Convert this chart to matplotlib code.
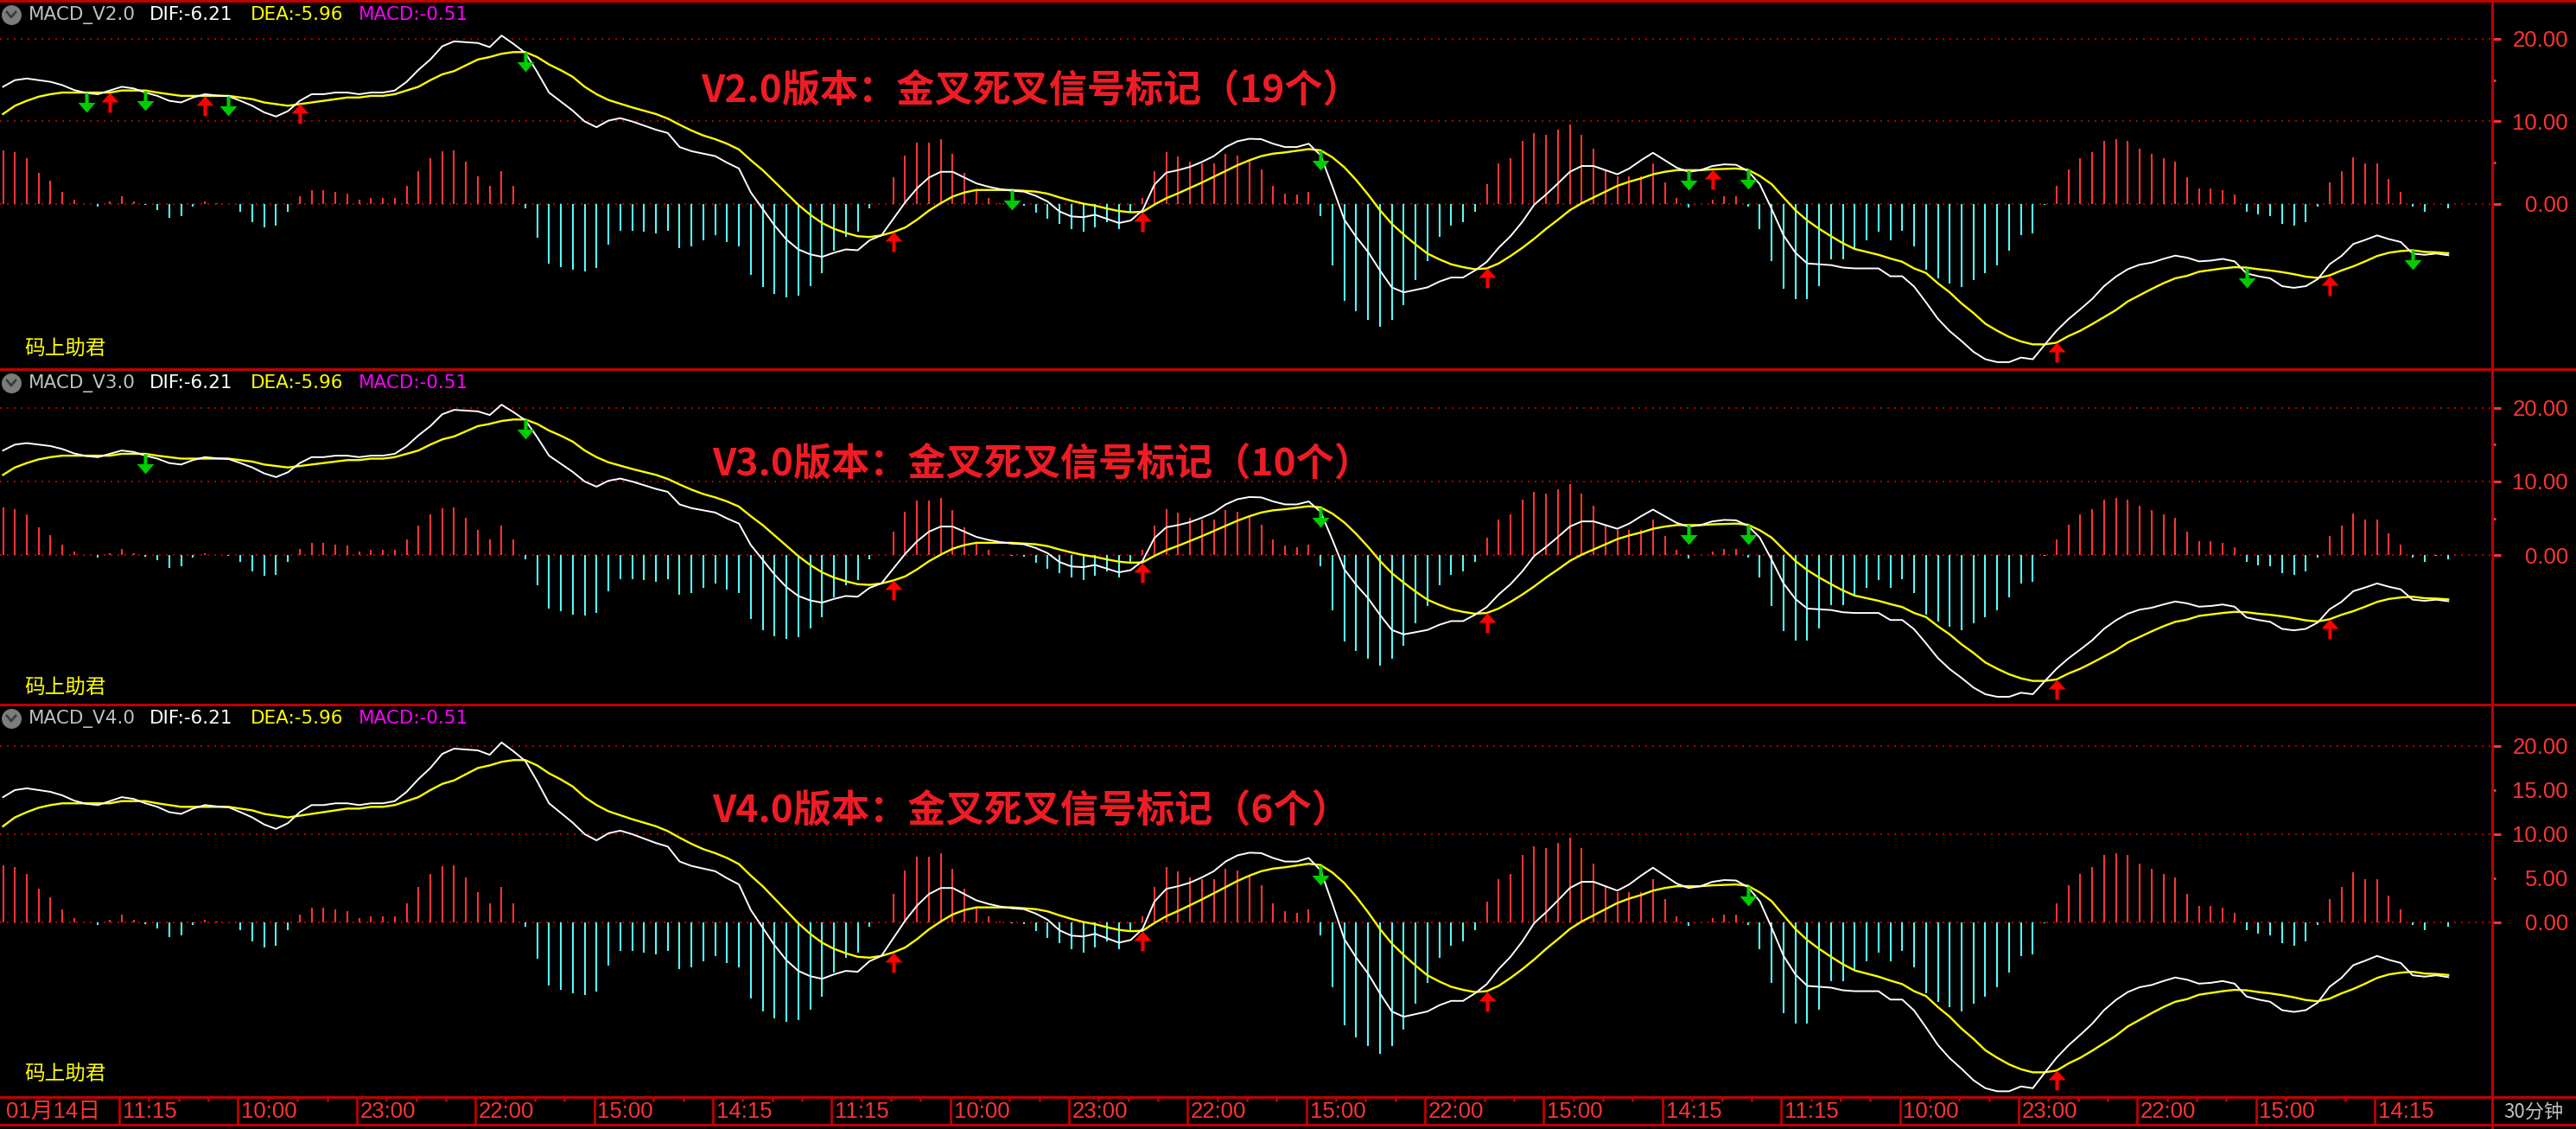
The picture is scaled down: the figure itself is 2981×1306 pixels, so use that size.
import numpy as np
import matplotlib
matplotlib.use("Agg")
import matplotlib.pyplot as plt
from matplotlib.path import Path
from matplotlib.lines import Line2D

W, H = 2981, 1306

# ---- data (one value per 30-min bar) ----
dif = [14.2, 15.0, 15.2, 15.0, 14.8, 14.4, 13.8, 13.45, 13.3, 13.75,
       14.2, 14.0, 13.5, 13.1, 12.5, 12.3, 12.9, 13.3, 13.15, 13.05,
       12.5, 11.9, 11.1, 10.6, 11.25, 12.5, 13.3, 13.3, 13.5, 13.5,
       13.3, 13.5, 13.5, 13.75, 14.8, 16.25, 17.5, 19.1, 19.7, 19.6,
       19.5, 19.0, 20.4, 19.4, 18.3, 16.0, 13.5, 12.4, 11.3, 10.0,
       9.3, 10.1, 10.4, 10.0, 9.5, 9.0, 8.6, 6.9, 6.4, 6.1,
       5.8, 5.0, 4.3, 1.4, -0.6, -2.6, -4.3, -5.5, -6.1, -6.4,
       -5.9, -5.5, -5.6, -4.4, -3.8, -1.8, 0.2, 1.9, 3.2, 3.9,
       3.9, 3.2, 2.5, 2.1, 1.8, 1.6, 1.5, 1.0, 0.3, -0.9,
       -1.5, -1.6, -1.3, -1.8, -2.3, -2.0, -0.75, 2.35, 3.8, 4.1,
       4.5, 5.1, 5.8, 6.9, 7.6, 7.9, 7.85, 7.3, 6.9, 6.9,
       7.3, 5.9, 2.1, -1.9, -4.0, -5.8, -8.05, -10.1, -10.7, -10.4,
       -10.1, -9.4, -8.9, -8.9, -8.05, -7.0, -5.3, -3.9, -2.15, -0.07,
       1.15, 2.5, 3.9, 4.6, 4.6, 4.1, 3.6, 4.3, 5.3, 6.2,
       5.3, 4.4, 3.9, 4.1, 4.6, 4.8, 4.75, 4.0, 2.4, -0.6,
       -3.8, -5.9, -7.2, -7.3, -7.4, -7.7, -7.8, -7.8, -7.8, -8.75,
       -8.75, -10.0, -11.9, -13.9, -15.4, -16.6, -17.9, -18.8, -19.15, -19.15,
       -18.6, -18.8, -17.05, -15.35, -13.95, -12.75, -11.5, -9.95, -8.8, -7.9,
       -7.35, -7.1, -6.65, -6.25, -6.5, -6.95, -6.85, -6.65, -6.95, -8.4,
       -8.75, -9.0, -9.95, -10.15, -9.95, -9.1, -7.3, -6.3, -4.85, -4.35,
       -3.8, -4.25, -4.6, -6.0, -6.15, -6.0, -6.21]

dea = [10.9, 11.9, 12.5, 13.0, 13.3, 13.5, 13.5, 13.5, 13.5, 13.5,
       13.75, 13.75, 13.75, 13.5, 13.3, 13.1, 13.1, 13.1, 13.1, 13.1,
       12.9, 12.7, 12.3, 12.1, 11.9, 12.1, 12.3, 12.5, 12.7, 12.9,
       12.9, 13.1, 13.1, 13.3, 13.75, 14.2, 15.0, 15.7, 16.1, 16.8,
       17.5, 17.8, 18.2, 18.4, 18.4, 17.8, 16.9, 16.2, 15.4, 14.2,
       13.3, 12.6, 12.15, 11.7, 11.3, 10.9, 10.35, 9.6, 8.9, 8.3,
       7.85, 7.3, 6.6, 5.3, 4.1, 2.7, 1.3, -0.1, -1.3, -2.3,
       -3.0, -3.5, -3.9, -4.0, -3.8, -3.4, -2.85, -1.9, -0.8, 0.1,
       0.9, 1.4, 1.7, 1.7, 1.7, 1.7, 1.6, 1.5, 1.25, 0.8,
       0.4, 0.05, -0.2, -0.55, -0.85, -1.0, -0.95, -0.07, 0.7, 1.3,
       1.95, 2.6, 3.3, 4.0, 4.7, 5.3, 5.8, 6.1, 6.25, 6.45,
       6.65, 6.5, 5.65, 4.45, 2.9, 1.15, -0.75, -2.4, -3.7, -4.9,
       -6.0, -6.7, -7.3, -7.65, -7.9, -7.8, -7.2, -6.3, -5.3, -4.2,
       -3.0, -1.9, -0.75, 0.1, 0.8, 1.5, 2.2, 2.7, 3.1, 3.6,
       3.9, 4.1, 4.1, 4.1, 4.2, 4.25, 4.3, 4.15, 3.4, 2.4,
       0.8, -0.75, -2.0, -3.0, -3.9, -4.75, -5.45, -5.8, -6.15, -6.6,
       -7.0, -7.8, -8.35, -9.6, -10.7, -12.05, -13.2, -14.5, -15.35, -16.1,
       -16.65, -17.0, -17.0, -16.8, -16.0, -15.35, -14.55, -13.7, -12.85, -11.8,
       -11.05, -10.3, -9.6, -9.0, -8.7, -8.2, -8.0, -7.8, -7.65, -7.7,
       -7.9, -8.05, -8.25, -8.5, -8.8, -8.95, -8.65, -8.05, -7.55, -6.95,
       -6.3, -5.9, -5.7, -5.6, -5.8, -5.85, -5.96]

macd = [6.5, 6.3, 5.5, 3.8, 2.8, 1.5, 0.5, 0.0, -0.3, 0.3,
        0.9, 0.3, -0.15, -0.7, -1.7, -1.5, -0.3, 0.3, 0.1, -0.05,
        -0.9, -2.2, -2.8, -2.6, -0.9, 0.9, 1.7, 1.7, 1.5, 1.3,
        0.5, 0.7, 0.7, 0.7, 2.2, 4.0, 5.5, 6.4, 6.5, 5.1,
        3.4, 2.15, 4.0, 2.15, -0.5, -4.1, -7.2, -7.6, -8.0, -8.2,
        -7.8, -4.9, -3.2, -3.2, -3.4, -3.6, -3.2, -5.3, -5.1, -4.4,
        -3.8, -4.65, -5.1, -8.6, -10.1, -10.9, -11.3, -11.1, -9.9, -8.4,
        -5.7, -4.0, -3.4, -0.5, 0.0, 3.2, 5.9, 7.4, 7.4, 7.8,
        6.1, 3.8, 1.8, 0.7, 0.1, -0.1, -0.2, -1.0, -1.8, -2.4,
        -3.0, -3.4, -2.8, -2.15, -3.0, -1.1, 0.7, 4.0, 6.3, 5.8,
        5.1, 4.9, 4.9, 6.1, 5.9, 5.3, 4.2, 2.15, 1.3, 1.1,
        1.5, -1.5, -7.4, -11.7, -13.0, -14.0, -14.9, -14.0, -12.2, -9.2,
        -6.9, -4.0, -2.6, -2.15, -0.9, 2.4, 4.9, 5.5, 7.6, 8.6,
        8.4, 9.0, 9.65, 8.4, 6.7, 4.2, 3.4, 3.4, 3.4, 4.9,
        2.6, 0.7, -0.4, 0.0, 0.5, 0.9, 0.9, -0.3, -3.0, -6.9,
        -10.3, -11.5, -11.5, -9.9, -6.7, -6.7, -5.5, -4.4, -3.4, -4.4,
        -3.2, -5.1, -8.0, -9.0, -9.65, -10.1, -9.2, -8.4, -7.4, -5.7,
        -3.8, -3.6, -0.1, 2.15, 4.2, 5.5, 6.3, 7.6, 7.8, 7.6,
        6.7, 6.1, 5.5, 5.1, 3.2, 1.9, 1.9, 1.7, 1.1, -0.9,
        -1.3, -1.5, -2.4, -2.6, -2.15, -0.3, 2.6, 4.0, 5.7, 4.9,
        4.9, 3.0, 1.5, -0.3, -0.9, -0.05, -0.51]

# signal bars (golden cross = red up arrow, death cross = green down arrow)
v2_gold = [9, 17, 25, 75, 96, 125, 144, 173, 196]
v2_dead = [7, 12, 19, 44, 85, 111, 142, 147, 189, 203]
v3_gold = [75, 96, 125, 173, 196]
v3_dead = [12, 44, 111, 142, 147]
v4_gold = [75, 96, 125, 173]
v4_dead = [111, 147]

time_labels = ["01月14日", "11:15", "10:00", "23:00", "22:00", "15:00", "14:15",
               "11:15", "10:00", "23:00", "22:00", "15:00", "22:00", "15:00",
               "14:15", "11:15", "10:00", "23:00", "22:00", "15:00", "14:15"]

header_vals = ["DIF:-6.21", "DEA:-5.96", "MACD:-0.51"]

# ---- styling ----
BORDER = "#bf0000"
GRID = "#b00000"
TXTRED = "#ff3434"
BAR_RED = "#ff3434"
BAR_CYAN = "#54fcfc"
NUMFONT = ["Liberation Sans Narrow", "Liberation Sans", "DejaVu Sans"]
CJK = ["Noto Sans CJK SC", "DejaVu Sans"]

dif = np.array(dif)
dea = np.array(dea)
macd = np.array(macd)
x = np.arange(len(dif))
XL = (-0.255, 209.7)

def fx(px):
    return px / W

def fy(py):
    return 1 - py / H

# arrow markers: tip / top at the anchor point, body hanging below
UP = Path([(0, 0), (0.435, -0.48), (0.09, -0.48), (0.09, -1), (-0.09, -1),
           (-0.09, -0.48), (-0.435, -0.48), (0, 0)], closed=True)
DOWN = Path([(-0.09, 0), (0.09, 0), (0.09, -0.5), (0.435, -0.5), (0, -1),
             (-0.435, -0.5), (-0.09, -0.5), (-0.09, 0)], closed=True)

fig = plt.figure(figsize=(W / 100, H / 100), dpi=100, facecolor="black")

panels = [
    dict(name="MACD_V2.0", title="V2.0版本：金叉死叉信号标记（19个）", gold=v2_gold, dead=v2_dead,
         top=2, bot=427, ylim=(-20.0, 24.5), five=False, title_xy=(1193, 104), sign_y=404),
    dict(name="MACD_V3.0", title="V3.0版本：金叉死叉信号标记（10个）", gold=v3_gold, dead=v3_dead,
         top=428, bot=815, ylim=(-20.2, 25.1), five=False, title_xy=(1206, 536), sign_y=796),
    dict(name="MACD_V4.0", title="V4.0版本：金叉死叉信号标记（6个）", gold=v4_gold, dead=v4_dead,
         top=816, bot=1269, ylim=(-19.8, 24.6), five=True, title_xy=(1193, 937), sign_y=1243),
]

for p in panels:
    ax = fig.add_axes([0, fy(p["bot"]), 2884 / W, (p["bot"] - p["top"]) / H])
    ax.set_facecolor("black")
    ax.set_xlim(XL)
    ax.set_ylim(p["ylim"])
    for s in ax.spines.values():
        s.set_visible(False)
    ax.set_xticks([])

    for lv in (0, 10, 20):
        ax.axhline(lv, color=GRID, lw=1.44, ls=(0, (1, 3)), zorder=1)

    pos = macd > 0
    neg = macd < 0
    ax.vlines(x[pos], 0, macd[pos], colors=BAR_RED, lw=1.5, zorder=2)
    ax.vlines(x[neg], 0, macd[neg], colors=BAR_CYAN, lw=1.5, zorder=2)

    ax.plot(x, dea, color="#ffff00", lw=1.7, zorder=3)
    ax.plot(x, dif, color="white", lw=1.4, zorder=4)

    g = np.array(p["gold"])
    d = np.array(p["dead"])
    ax.plot(g, dea[g], ls="none", marker=UP, ms=33, mfc="#ff0000", mec="none", zorder=5)
    ax.plot(d, dea[d], ls="none", marker=DOWN, ms=33, mfc="#00cc00", mec="none", zorder=5)

    # right price axis
    ax.yaxis.tick_right()
    ax.set_yticks([0, 10, 20])
    ax.set_yticklabels(["0.00", "10.00", "20.00"])
    ax.set_yticks([5, 15], minor=True)
    if p["five"]:
        ax.set_yticklabels(["5.00", "15.00"], minor=True)
    else:
        ax.set_yticklabels(["", ""], minor=True)
    ax.tick_params(axis="y", which="major", colors=TXTRED, length=7.2, width=2.2,
                   pad=56, labelsize=18.5)
    ax.tick_params(axis="y", which="minor", colors=TXTRED, length=2.9, width=2.2,
                   pad=60.5, labelsize=18.5)
    for lab in ax.get_yticklabels(which="both"):
        lab.set_horizontalalignment("right")
        lab.set_fontfamily(NUMFONT)

    # header line
    hy = p["top"] + 15
    fig.add_artist(Line2D([fx(13)], [fy(hy)], marker="o", ms=15.5, color="#7c7c7c",
                          transform=fig.transFigure))
    fig.add_artist(Line2D([fx(8), fx(13), fx(18)], [fy(hy - 3), fy(hy + 3), fy(hy - 3)],
                          color="#3c3c3c", lw=2, transform=fig.transFigure))
    fig.text(fx(33), fy(hy), p["name"], color="#c0c0c0", fontsize=15.5, va="center")
    fig.text(fx(173), fy(hy), header_vals[0], color="white", fontsize=15.5, va="center")
    fig.text(fx(290), fy(hy), header_vals[1], color="#ffff00", fontsize=15.5, va="center")
    fig.text(fx(415), fy(hy), header_vals[2], color="#ff00ff", fontsize=15.5, va="center")

    tx, ty = p["title_xy"]
    fig.text(fx(tx), fy(ty), p["title"], color="#ee1c25", fontsize=31.8, fontweight="bold",
             family=CJK, ha="center", va="center")
    fig.text(fx(28), fy(p["sign_y"]), "码上助君", color="#ffff00", fontsize=17,
             family=CJK, ha="left", va="center")

# ---- time axis ----
tax = fig.add_axes([0, fy(1301), 2884 / W, 32 / H])
tax.set_facecolor("black")
tax.set_xlim(XL)
tax.set_ylim(0, 1)
tax.axis("off")
seps = [10 * k - 0.2 for k in range(1, 21)]
for s in seps:
    tax.axvline(s, color=BORDER, lw=2)
ticks = [s + 2.5 * j for s in seps[:-1] for j in (1, 2, 3)]
tax.vlines(ticks, 1 - 5 / 32, 1, color=BORDER, lw=2)
starts = [0] + seps
for s, lab in zip(starts, time_labels):
    tax.text(s + 0.28, 0.47, lab, color=TXTRED, fontsize=18.5, family=NUMFONT + CJK[:1],
             ha="left", va="center")

fig.text(fx(2932), fy(1286), "30分钟", color="#c0c0c0", fontsize=16, family=CJK,
         ha="center", va="center")

# ---- frame lines ----
for yy in (1, 427, 815, 1269, 1301):
    fig.add_artist(Line2D([0, 1], [fy(yy), fy(yy)], color=BORDER, lw=2.2,
                          transform=fig.transFigure))
fig.add_artist(Line2D([fx(2884), fx(2884)], [0, 1], color=BORDER, lw=2.2,
                      transform=fig.transFigure))

fig.savefig("out.png", dpi=100, facecolor="black")
